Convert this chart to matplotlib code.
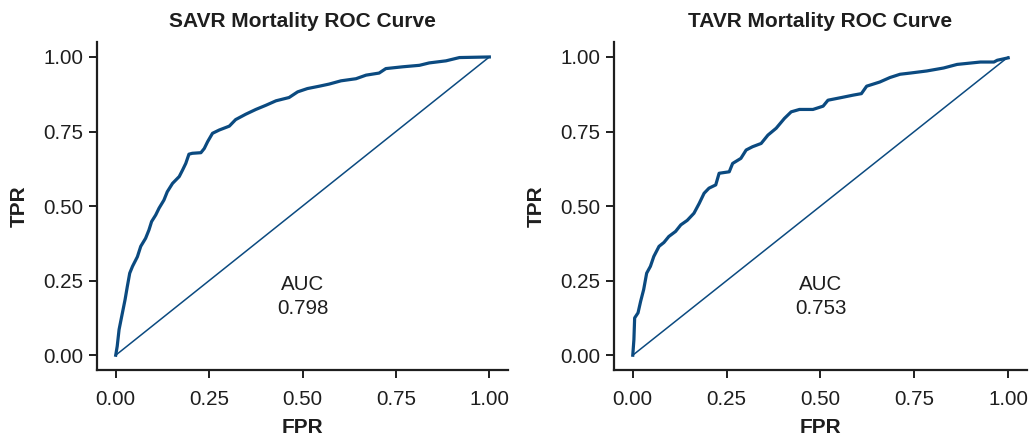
import matplotlib
matplotlib.use("Agg")
import matplotlib.pyplot as plt

plt.rcParams['font.family'] = ['Liberation Sans', 'DejaVu Sans']

# SAVR ROC curve
savr_fpr = [0, 0.004, 0.009, 0.016, 0.025, 0.031, 0.0375, 0.045, 0.058, 0.067, 0.080,
            0.089, 0.096, 0.107, 0.116, 0.129, 0.138, 0.152, 0.170, 0.179, 0.1875,
            0.196, 0.205, 0.228, 0.237, 0.246, 0.259, 0.277, 0.304, 0.321, 0.348,
            0.375, 0.402, 0.429, 0.464, 0.487, 0.513, 0.545, 0.571, 0.603, 0.643,
            0.670, 0.705, 0.723, 0.768, 0.813, 0.839, 0.884, 0.920, 1.0]
savr_tpr = [0, 0.03, 0.086, 0.13, 0.186, 0.23, 0.275, 0.298, 0.33, 0.365, 0.392,
            0.42, 0.448, 0.47, 0.493, 0.52, 0.548, 0.576, 0.599, 0.621, 0.643,
            0.674, 0.677, 0.679, 0.693, 0.716, 0.744, 0.755, 0.768, 0.790, 0.808,
            0.824, 0.838, 0.853, 0.864, 0.883, 0.894, 0.902, 0.909, 0.920, 0.927,
            0.939, 0.946, 0.961, 0.967, 0.972, 0.980, 0.987, 0.998, 1.0]
savr_auc = "0.798"

# TAVR ROC curve
tavr_fpr = [0, 0.003, 0.005, 0.014, 0.021, 0.029, 0.037, 0.047, 0.056, 0.070, 0.083,
            0.096, 0.114, 0.128, 0.145, 0.163, 0.177, 0.190, 0.203, 0.221, 0.230,
            0.257, 0.266, 0.288, 0.302, 0.319, 0.342, 0.360, 0.382, 0.404, 0.422,
            0.444, 0.480, 0.507, 0.520, 0.556, 0.587, 0.609, 0.623, 0.658, 0.685,
            0.712, 0.739, 0.783, 0.828, 0.864, 0.926, 0.962, 0.971, 1.0]
tavr_tpr = [0, 0.052, 0.125, 0.142, 0.181, 0.220, 0.275, 0.298, 0.331, 0.365, 0.378,
            0.398, 0.415, 0.437, 0.452, 0.476, 0.509, 0.543, 0.560, 0.571, 0.610,
            0.615, 0.643, 0.660, 0.688, 0.699, 0.710, 0.738, 0.761, 0.794, 0.816,
            0.824, 0.824, 0.835, 0.855, 0.864, 0.872, 0.877, 0.902, 0.916, 0.931,
            0.942, 0.946, 0.953, 0.963, 0.975, 0.983, 0.983, 0.989, 0.997]
tavr_auc = "0.753"

titles = ["SAVR Mortality ROC Curve", "TAVR Mortality ROC Curve"]
ticks = [0, 0.25, 0.5, 0.75, 1.0]
tick_labels = ["0.00", "0.25", "0.50", "0.75", "1.00"]

col = "#0b4a80"
dark = "#1e1e1e"

fig = plt.figure(figsize=(10.29, 4.38), dpi=100)
ax1 = fig.add_axes([0.0943, 0.155, 0.3994, 0.749])
ax2 = fig.add_axes([0.5967, 0.155, 0.4013, 0.749])

curves = [(savr_fpr, savr_tpr, savr_auc), (tavr_fpr, tavr_tpr, tavr_auc)]

for ax, (fpr, tpr, auc), title in zip([ax1, ax2], curves, titles):
    ax.plot(fpr, tpr, color=col, lw=2.3, solid_joinstyle='round')
    ax.plot([0, 1], [0, 1], color=col, lw=1.1)
    ax.text(0.5, 0.197, "AUC\n" + auc, ha='center', va='center',
            fontsize=14.8, color=dark, linespacing=1.3)
    ax.set_xlim(-0.05, 1.05)
    ax.set_ylim(-0.05, 1.05)
    ax.set_xticks(ticks)
    ax.set_xticklabels(tick_labels)
    ax.set_yticks(ticks)
    ax.set_yticklabels(tick_labels)
    for s in ['top', 'right']:
        ax.spines[s].set_visible(False)
    for s in ['left', 'bottom']:
        ax.spines[s].set_linewidth(1.6)
        ax.spines[s].set_color(dark)
    ax.tick_params(length=6, width=1.4, color=dark, labelsize=14.8,
                   labelcolor=dark, pad=4)
    ax.tick_params(axis='x', pad=8)
    ax.set_title(title, fontsize=15, fontweight='bold', color=dark, pad=11)
    ax.set_xlabel("FPR", fontsize=15, fontweight='bold', color=dark, labelpad=7)
    ax.set_ylabel("TPR", fontsize=15, fontweight='bold', color=dark, labelpad=10)

fig.savefig("out.png", dpi=100)
